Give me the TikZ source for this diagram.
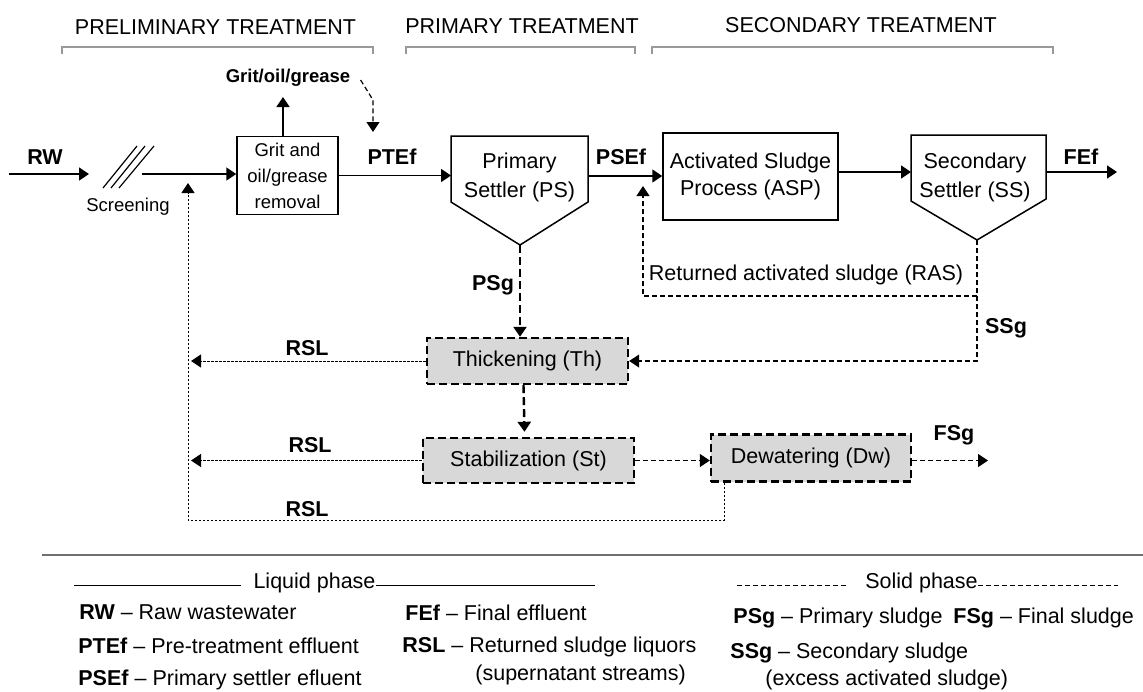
\documentclass[tikz,border=0pt]{standalone}
\usepackage{fontspec}
\setmainfont{Liberation Sans}
\usetikzlibrary{arrows.meta}
\definecolor{boxgray}{HTML}{D8D8D8}
\definecolor{bracketgray}{HTML}{9A9A9A}
\definecolor{sepgray}{HTML}{707070}
\begin{document}
\begin{tikzpicture}[x=0.5pt,y=-0.5pt,
  every node/.style={inner sep=0pt, font=\fontsize{10.75}{13.5}\selectfont},
  lbl/.style={font=\fontsize{10.75}{13}\selectfont\bfseries},
  smalltext/.style={font=\fontsize{9.25}{13}\selectfont},
  smallbold/.style={font=\fontsize{9.25}{13}\selectfont\bfseries},
  tip/.style={-{Triangle[length=5pt,width=6.5pt]}},
  liq/.style={line width=0.75pt},
  fine/.style={line width=0.5pt, dash pattern=on 1.2pt off 0.8pt},
  med/.style={line width=0.6pt, dash pattern=on 2.5pt off 1.5pt},
  heavy/.style={line width=1.2pt, dash pattern=on 4pt off 2pt},
  solidbox/.style={draw, line width=0.75pt, align=center},
  sludgebox/.style={draw, fill=boxgray, line width=1.2pt, dash pattern=on 4pt off 2pt},
  bracket/.style={draw=bracketgray, line width=1pt},
]
\useasboundingbox (0,0) rectangle (1143,691);

% titles and brackets
\node (t1) at (215.5,27) {PRELIMINARY TREATMENT};
\node (t2) at (522,26) {PRIMARY TREATMENT};
\node (t3) at (861,25) {SECONDARY TREATMENT};
\draw[bracket] (62,54) -- (62,47) -- (373,47) -- (373,54);
\draw[bracket] (406,54) -- (406,47) -- (635,47) -- (635,54);
\draw[bracket] (652,54) -- (652,47) -- (1053,47) -- (1053,54);

% coordinates
\coordinate (rwstart) at (9,174);
\coordinate (scrin) at (89,174);
\coordinate (scrout) at (142,174);
\coordinate (gogtip) at (283,97);
\coordinate (gogbend) at (373,100);
\coordinate (pteftip) at (373,132);
\coordinate (PSnw) at (451,136);
\coordinate (PSne) at (588,136);
\coordinate (PSse) at (588,202);
\coordinate (PSsw) at (451,202);
\coordinate (PSapex) at (520,245);
\coordinate (PSout) at (588,176);
\coordinate (SSnw) at (911,135);
\coordinate (SSne) at (1046,135);
\coordinate (SSse) at (1046,199);
\coordinate (SSsw) at (911,201);
\coordinate (SSapex) at (977,240);
\coordinate (SSin) at (911,172);
\coordinate (SSout) at (1046,172);
\coordinate (FEtip) at (1117,172);
\coordinate (RASc) at (977,296);
\coordinate (RASl) at (643,296);
\coordinate (RAStip) at (643,186);
\coordinate (Ltip) at (188,183);
\coordinate (DwDown) at (724,520);
\coordinate (FStip) at (988,460.5);

% nodes
\node[solidbox, smalltext, minimum width=50.5pt, minimum height=39pt] (grit) at (287.5,175.5) {Grit and\\oil/grease\\removal};
\node[align=center, font=\fontsize{10.75}{14.5}\selectfont] (PS) at (519.5,177.5) {Primary\\Settler (PS)};
\node[solidbox, minimum width=87.5pt, minimum height=43.5pt] (ASP) at (750.5,176.5) {Activated Sludge\\Process (ASP)};
\node[align=center, font=\fontsize{10.75}{14.5}\selectfont] (SS) at (975,177) {Secondary\\Settler (SS)};
\node[sludgebox, minimum width=100.5pt, minimum height=23pt] (Th) at (527.5,361) {Thickening (Th)};
\node[sludgebox, minimum width=105.5pt, minimum height=22.5pt] (St) at (528.5,460.5) {Stabilization (St)};
\node[sludgebox, minimum width=100pt, minimum height=23.5pt] (Dw) at (811,458) {Dewatering (Dw)};

\draw[liq] (PSsw) -- (PSnw) -- (PSne) -- (PSse) -- (PSapex) -- cycle;
\draw[liq] (SSsw) -- (SSnw) -- (SSne) -- (SSse) -- (SSapex) -- cycle;

% screening
\draw[line width=0.6pt] (103,188) -- (137,146) (111,188) -- (145,146) (119,188) -- (154,146);
\node[smalltext] (scr) at (128,207) {Screening};

% labels
\node[lbl] (lrw) at (45,157) {RW};
\node[lbl] (lptef) at (392,157) {PTEf};
\node[lbl] (lpsef) at (621,157) {PSEf};
\node[lbl] (lfef) at (1081,157) {FEf};
\node[smallbold] (gog) at (288,78) {Grit/oil/grease};
\node[lbl] (lpsg) at (493,285) {PSg};
\node[lbl] (lrsl1) at (307,348) {RSL};
\node[lbl] (lrsl2) at (310,445) {RSL};
\node[lbl] (lrsl3) at (307,509) {RSL};
\node (lras) at (806,275) {Returned activated sludge (RAS)};
\node[lbl] (lssg) at (1006,328) {SSg};
\node[lbl] (lfsg) at (954,435) {FSg};

% liquid line
\draw[liq,tip] (rwstart) -- (scrin);
\draw[liq,tip] (scrout) -- (grit.west |- scrout);
\draw[liq,tip] (grit.north -| gogtip) -- (gogtip);
\draw[med,tip] ([xshift=5pt,yshift=-1pt]gog.east) -- (gogbend) -- (pteftip);
\draw[liq,tip] (grit.east) -- (grit.east -| PSnw);
\draw[liq,tip] (PSout) -- (ASP.west |- PSout);
\draw[liq,tip] (ASP.east |- SSin) -- (SSin);
\draw[liq,tip] (SSout) -- (FEtip);

% sludge line
\draw[heavy,tip] (PSapex) -- (Th.north -| PSapex);
\draw[heavy,tip] ([xshift=-2pt]Th.south) -- ([xshift=-2pt,yshift=2.5pt]St.north);
\draw[med,tip] (RASc) -- (RASl) -- (RAStip);
\draw[med,tip] (SSapex) -- (SSapex |- Th.east) -- (Th.east);
\draw[med,tip] (St.east) -- (St.east -| Dw.west);
\draw[med,tip] (Dw.east |- FStip) -- (FStip);

% returned sludge liquors
\draw[fine,tip] (Th.west) -- ([xshift=1.5pt]Th.west -| Ltip);
\draw[fine,tip] (St.west) -- ([xshift=1.5pt]St.west -| Ltip);
\draw[fine,tip] (Dw.south -| DwDown) -- (DwDown) -- (DwDown -| Ltip) -- (Ltip);

% legend
\draw[line width=1.2pt, sepgray] (42,555) -- (1143,555);
\node (liqp) at (314.5,583) {Liquid phase};
\draw[line width=0.5pt] (74,585) -- ([xshift=-6pt]liqp.west |- 0,585);
\draw[line width=0.5pt] (liqp.east |- 0,585) -- (595,585);
\node (solp) at (921.5,583) {Solid phase};
\draw[line width=0.5pt, dash pattern=on 2.5pt off 1.5pt] (737,585) -- ([xshift=-8pt]solp.west |- 0,585);
\draw[line width=0.5pt, dash pattern=on 2.5pt off 1.5pt] (solp.east |- 0,585) -- (1118,585);

\node[anchor=west] (g1) at (79,612) {\textbf{RW} \textendash{} Raw wastewater};
\node[anchor=west] (g2) at (78,646) {\textbf{PTEf} \textendash{} Pre-treatment effluent};
\node[anchor=west] (g3) at (78,680) {\textbf{PSEf} \textendash{} Primary settler efluent};
\node[anchor=west] (g4) at (405,613) {\textbf{FEf} \textendash{} Final effluent};
\node[anchor=west] (g5) at (402,647) {\textbf{RSL} \textendash{} Returned sludge liquors};
\node[anchor=west] (g6) at (475,675) {(supernatant streams)};
\node[anchor=west] (g7) at (733,618) {\textbf{PSg} \textendash{} Primary sludge};
\node[anchor=west] (g8) at (953,618) {\textbf{FSg} \textendash{} Final sludge};
\node[anchor=west] (g9) at (730,653) {\textbf{SSg} \textendash{} Secondary sludge};
\node[anchor=west] (g10) at (765,680) {(excess activated sludge)};
\end{tikzpicture}
\end{document}
